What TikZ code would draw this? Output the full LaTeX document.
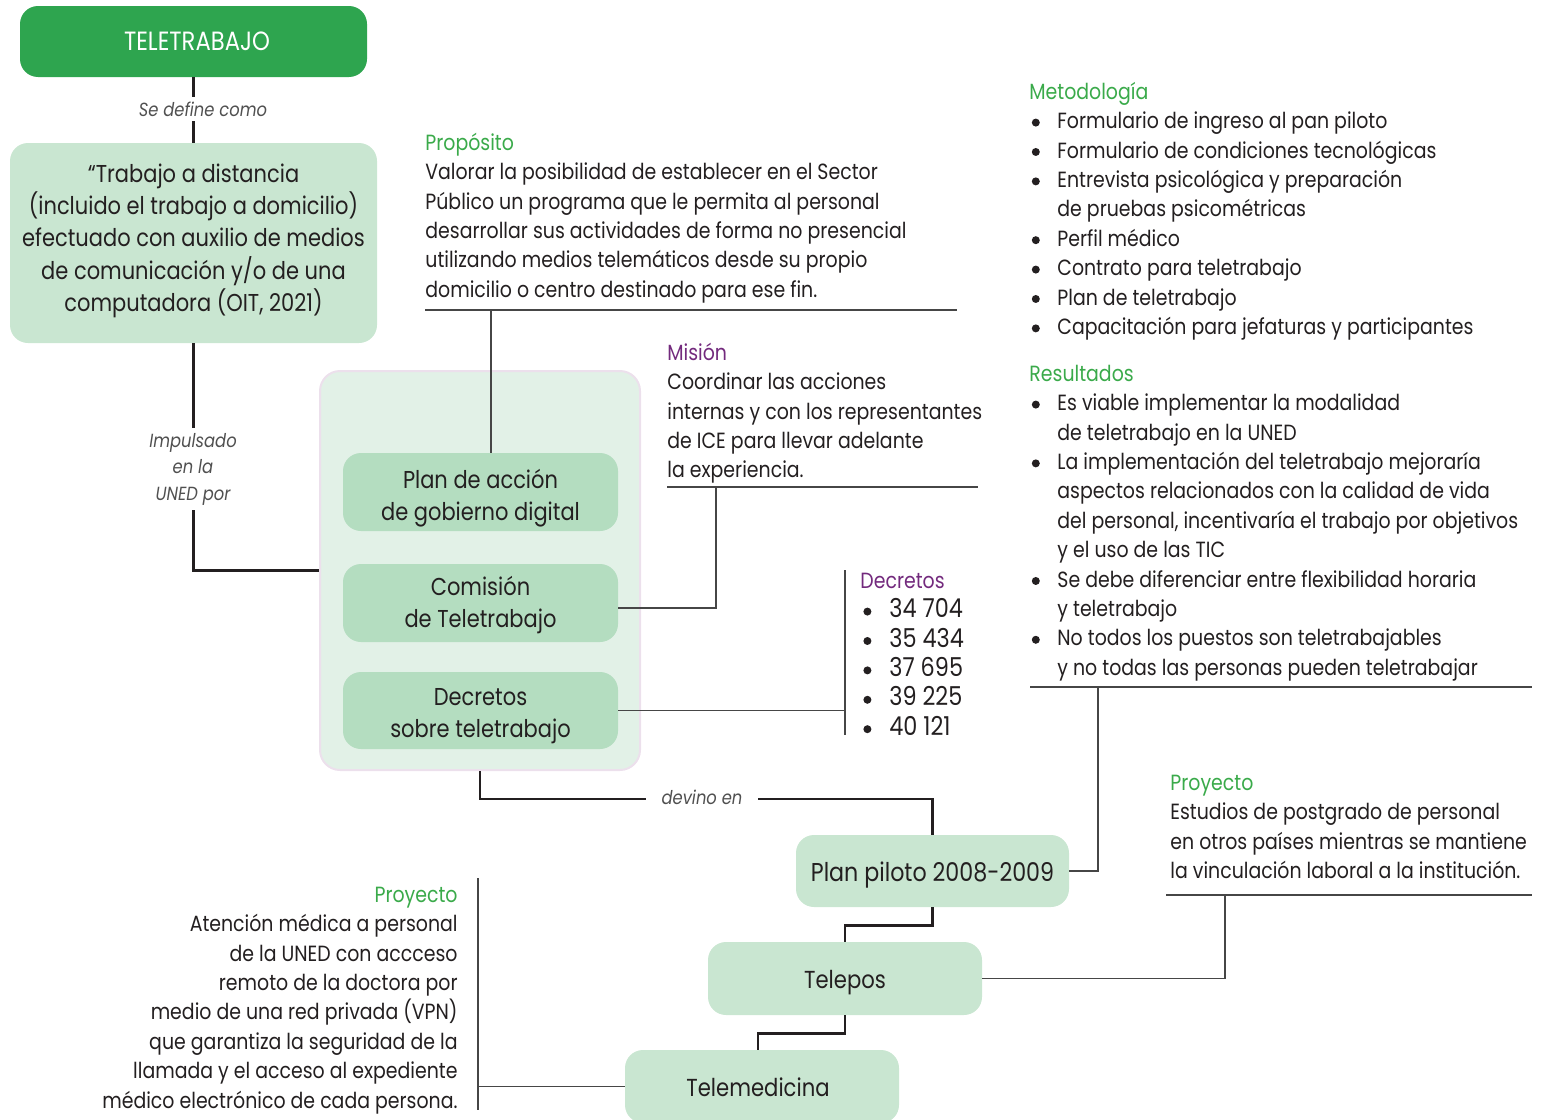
\documentclass[tikz,border=0pt]{standalone}
\usepackage{fontspec}
\setmainfont{Poppins}[FakeStretch=0.86]
\definecolor{darkgreen}{RGB}{46,165,79}
\definecolor{boxgreen}{RGB}{201,230,209}
\definecolor{innergreen}{RGB}{180,221,192}
\definecolor{contfill}{RGB}{226,241,231}
\definecolor{contborder}{RGB}{236,224,236}
\definecolor{headgreen}{RGB}{58,170,74}
\definecolor{headpurple}{RGB}{115,42,125}
\definecolor{txt}{RGB}{35,31,32}
\definecolor{linedark}{RGB}{35,31,32}
\definecolor{linegray}{RGB}{70,70,70}
\definecolor{labelgray}{RGB}{80,80,80}
\newcommand\hdg[1]{\textcolor{headgreen}{#1}}
\newcommand\hdp[1]{\textcolor{headpurple}{#1}}
\newcommand\dotmark{\raisebox{1.1pt}{\tikz[x=1pt,y=1pt]\fill[txt] (0,0) circle (2pt);}}
\newcommand\bul{\makebox[14pt][l]{\hspace{1.2pt}\dotmark}}
\newcommand\shiftv[2]{\raisebox{#1}[\height][\depth]{#2}}
\newcommand\bodyfont{\fontsize{11}{14.7}\selectfont}
\newcommand\boxfont{\fontsize{12.2}{16}\selectfont}
\newcommand\labelfont{\fontsize{9.5}{13.25}\selectfont\itshape}
\begin{document}
\begin{tikzpicture}[x=0.5pt,y=-0.5pt,
  box/.style={rounded corners=9pt, fill=boxgreen, draw=none, align=center, inner sep=0pt, text=txt, font=\boxfont},
  inbox/.style={box, fill=innergreen},
  conn/.style={draw=linedark, line width=1.3pt},
  refl/.style={draw=linegray, line width=0.7pt},
  lbl/.style={fill=white, font=\labelfont, text=labelgray, inner sep=2.5pt, align=center},
  tblock/.style={inner sep=0pt, text=txt, font=\bodyfont}]
\useasboundingbox (0,0) rectangle (1547,1119);
\clip (0,0) rectangle (1547,1119);

% main boxes
\node[box, fill=darkgreen, text=white, minimum width=173.5pt, minimum height=35.5pt, font=\fontsize{13.2}{16}\selectfont] (tele) at (193.5,41.5) {\hspace*{3.5pt}TELETRABAJO};
\node[box, minimum width=183.5pt, minimum height=100pt] (def) at (193.5,243) {\shiftv{1.2pt}{\begin{tabular}{@{}c@{}}“Trabajo a distancia\\(incluido el trabajo a domicilio)\\efectuado con auxilio de medios\\de comunicación y/o de una\\computadora (OIT, 2021)\end{tabular}}};
\node[rounded corners=10pt, fill=contfill, draw=contborder, line width=1pt, minimum width=160pt, minimum height=199.5pt, inner sep=0pt] (cont) at (480,570.5) {};
\node[inbox, minimum width=137.5pt, minimum height=39pt] (plan) at (480.5,492) {\shiftv{-3pt}{\begin{tabular}{@{}c@{}}Plan de acción\\de gobierno digital\end{tabular}}};
\node[inbox, minimum width=137.5pt, minimum height=39pt] (comi) at (480.5,603) {\shiftv{-1pt}{\begin{tabular}{@{}c@{}}Comisión\\de Teletrabajo\end{tabular}}};
\node[inbox, minimum width=137.5pt, minimum height=38.5pt] (decr) at (480.5,710.5) {\shiftv{-2.5pt}{\begin{tabular}{@{}c@{}}Decretos\\sobre teletrabajo\end{tabular}}};
\node[box, minimum width=136.5pt, minimum height=36pt, font=\fontsize{12.9}{16}\selectfont] (piloto) at (932.5,871) {\shiftv{-2pt}{Plan piloto 2008-2009}};
\node[box, minimum width=137pt, minimum height=36.5pt, font=\fontsize{12.3}{16}\selectfont] (telepos) at (845,978.5) {\shiftv{-2pt}{Telepos}};
\node[box, minimum width=137pt, minimum height=36.5pt, font=\fontsize{12.3}{16}\selectfont] (telemed) at (762,1086.5) {\shiftv{-0.5pt}{\hspace*{-4pt}Telemedicina}};

% main connectors
\draw[conn] (tele.south) -- (def.north);
\node[lbl] (sedef) at (203,109) {Se define como};
\draw[conn] (def.south) |- (cont.west);
\node[lbl] (impul) at (193,469) {Impulsado\\en la\\UNED por};
\draw[conn] (cont.south) -- ++(0,28) -| (piloto.north);
\node[lbl, inner xsep=8pt] (devino) at (702,797) {devino en};
\draw[conn] (piloto.south) -- ++(0,18) -| (telepos.north);
\draw[conn] (telepos.south) -- ++(0,18) -| ([xshift=-2pt]telemed.north);

% Proposito
\node[tblock, anchor=north west] (prop) at (425,129.4) {\begin{tabular}{@{}l@{}}
\hdg{Propósito}\\
Valorar la posibilidad de establecer en el Sector\\
Público un programa que le permita al personal\\
desarrollar sus actividades de forma no presencial\\
utilizando medios telemáticos desde su propio\\
domicilio o centro destinado para ese fin.
\end{tabular}};
\coordinate (propL) at (425,310);
\coordinate (propR) at (957,310);
\coordinate (propJ) at (491,310);
\draw[refl] (propL) -- (propR);
\draw[refl] (propJ) -- (propJ |- plan.north);

% Mision
\node[tblock, anchor=north west] (mis) at (667,339.4) {\begin{tabular}{@{}l@{}}
\hdp{Misión}\\
Coordinar las acciones\\
internas y con los representantes\\
de ICE para llevar adelante\\
la experiencia.
\end{tabular}};
\coordinate (misL) at (667,487);
\coordinate (misR) at (978,487);
\coordinate (misJ) at (716,487);
\draw[refl] (misL) -- (misR);
\draw[refl] (misJ) |- ([yshift=-2.5pt]comi.east);

% Decretos
\node[tblock, anchor=north west] (decl) at (860,567.4) {\begin{tabular}{@{}l@{}l@{}}
\multicolumn{2}{@{}l@{}}{\hdp{Decretos}}\\
\makebox[14.5pt][l]{\hspace{1.5pt}\dotmark} & {\fontsize{13}{14.7}\selectfont 34 704}\\
\makebox[14.5pt][l]{\hspace{1.5pt}\dotmark} & {\fontsize{13}{14.7}\selectfont 35 434}\\
\makebox[14.5pt][l]{\hspace{1.5pt}\dotmark} & {\fontsize{13}{14.7}\selectfont 37 695}\\
\makebox[14.5pt][l]{\hspace{1.5pt}\dotmark} & {\fontsize{13}{14.7}\selectfont 39 225}\\
\makebox[14.5pt][l]{\hspace{1.5pt}\dotmark} & {\fontsize{13}{14.7}\selectfont 40 121}
\end{tabular}};
\coordinate (decT) at (845,570);
\coordinate (decB) at (845,735);
\draw[refl] (decT) -- (decB);
\draw[refl] (decr.east) -- (decr.east -| decT);

% Metodologia
\node[tblock, anchor=north west] (meto) at (1029,78.4) {\begin{tabular}{@{}l@{}l@{}}
\multicolumn{2}{@{}l@{}}{\hdg{Metodología}}\\
\bul & Formulario de ingreso al pan piloto\\
\bul & Formulario de condiciones tecnológicas\\
\bul & Entrevista psicológica y preparación\\
 & de pruebas psicométricas\\
\bul & Perfil médico\\
\bul & Contrato para teletrabajo\\
\bul & Plan de teletrabajo\\
\bul & Capacitación para jefaturas y participantes
\end{tabular}};

% Resultados
\node[tblock, anchor=north west] (resu) at (1029,360.4) {\begin{tabular}{@{}l@{}l@{}}
\multicolumn{2}{@{}l@{}}{\hdg{Resultados}}\\
\bul & Es viable implementar la modalidad\\
 & de teletrabajo en la UNED\\
\bul & La implementación del teletrabajo mejoraría\\
 & aspectos relacionados con la calidad de vida\\
 & del personal, incentivaría el trabajo por objetivos\\
 & y el uso de las TIC\\
\bul & Se debe diferenciar entre flexibilidad horaria\\
 & y teletrabajo\\
\bul & No todos los puestos son teletrabajables\\
 & y no todas las personas pueden teletrabajar
\end{tabular}};
\coordinate (resL) at (1030,687);
\coordinate (resR) at (1532,687);
\coordinate (resJ) at (1098,687);
\draw[refl] (resL) -- (resR);
\draw[refl] (resJ) |- (piloto.east);

% Proyecto derecha
\node[tblock, anchor=north west] (proyR) at (1170,769.4) {\begin{tabular}{@{}l@{}}
\hdg{Proyecto}\\
Estudios de postgrado de personal\\
en otros países mientras se mantiene\\
la vinculación laboral a la institución.
\end{tabular}};
\coordinate (rpL) at (1166,895);
\coordinate (rpR) at (1532,895);
\coordinate (rpJ) at (1225,895);
\draw[refl] (rpL) -- (rpR);
\draw[refl] (telepos.east) -| (rpJ);

% Proyecto izquierda
\node[tblock, anchor=north east] (proyL) at (458,881.4) {\begin{tabular}{@{}r@{}}
\hdg{Proyecto}\\
Atención médica a personal\\
de la UNED con accceso\\
remoto de la doctora por\\
medio de una red privada (VPN)\\
que garantiza la seguridad de la\\
llamada y el acceso al expediente\\
médico electrónico de cada persona.
\end{tabular}};
\coordinate (lpT) at (478,878);
\coordinate (lpB) at (478,1110);
\draw[refl] (lpT) -- (lpB);
\draw[refl] (telemed.west) -- (telemed.west -| lpT);
\end{tikzpicture}
\end{document}
